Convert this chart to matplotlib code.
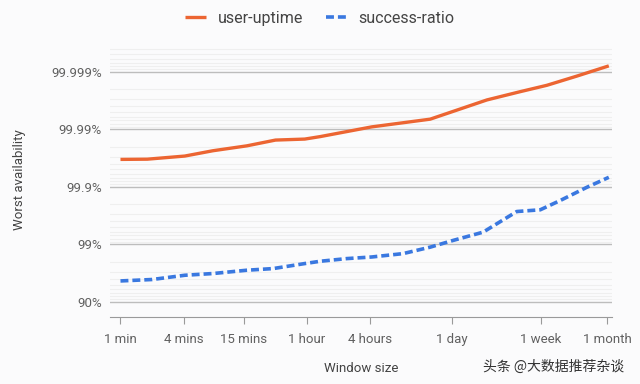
import numpy as np
import matplotlib
matplotlib.use("Agg")
import matplotlib.pyplot as plt
from matplotlib.ticker import FixedLocator, NullFormatter

# -------------------------
# DATA (window size in minutes, worst availability in %)
# -------------------------
uptime_minutes = [1, 1.8, 4.1, 7.6, 16, 30, 57, 80, 248, 893, 3100, 6430, 11550, 22300, 45000]
uptime_avail = [99.9666, 99.9669, 99.9708, 99.9764, 99.9806, 99.9846, 99.9852, 99.9866,
                99.99092, 99.99333, 99.99691, 99.99778, 99.99828, 99.99881, 99.99921]

ratio_minutes = [1, 2, 4.1, 7.6, 16, 28.5, 57, 80, 143.5, 248, 493, 893, 1479, 2857,
                 3855, 5980, 10000, 15500, 27800, 45000]
ratio_avail = [95.67, 95.91, 96.55, 96.78, 97.18, 97.36, 97.84, 98.03, 98.23, 98.34,
               98.55, 98.88, 99.145, 99.386, 99.561, 99.731, 99.749, 99.827, 99.898, 99.9316]

x_tick_minutes = [1, 4, 15, 60, 240, 1440, 10080, 43200]
x_tick_labels = ["1 min", "4 mins", "15 mins", "1 hour", "4 hours", "1 day", "1 week", "1 month"]

y_tick_avail = [90, 99, 99.9, 99.99, 99.999]
y_tick_labels = ["90%", "99%", "99.9%", "99.99%", "99.999%"]

ORANGE = "#ec6532"
BLUE = "#3a78e0"
TEXT = "#606060"


# "nines" scale: 90% -> 1, 99% -> 2, ...
def to_nines(a):
    a = np.asarray(a, dtype=float)
    return -np.log10(np.clip(1 - a / 100.0, 1e-12, None))


def from_nines(n):
    n = np.asarray(n, dtype=float)
    return 100.0 * (1 - 10.0 ** (-n))


plt.rcParams["font.family"] = ["Roboto", "DejaVu Sans"]

fig = plt.figure(figsize=(6.4, 3.84), dpi=100, facecolor="#fbfbfc")
ax = fig.add_axes([0.172, 0.175, 0.784, 0.713])
ax.set_facecolor("#fbfbfc")

ax.set_xscale("log")
ax.set_yscale("function", functions=(to_nines, from_nines))

ax.plot(uptime_minutes, uptime_avail, color=ORANGE, linewidth=2.4,
        solid_capstyle="butt", label="user-uptime", zorder=3)
ax.plot(ratio_minutes, ratio_avail, color=BLUE, linewidth=2.6,
        dashes=(2.2, 1.1), label="success-ratio", zorder=3)

ax.set_xlim(0.796, 48100)
ax.set_ylim(from_nines(0.74), from_nines(5.5))

# x axis
ax.set_xticks(x_tick_minutes)
ax.set_xticklabels(x_tick_labels)
ax.xaxis.set_minor_locator(FixedLocator([]))
ax.tick_params(axis="x", which="major", direction="out", length=5, width=0.8,
               color="#9a9a9a", labelcolor=TEXT, labelsize=9.5, pad=7)

# y axis: major + log-style minor gridlines
ax.set_yticks(y_tick_avail)
ax.set_yticklabels(y_tick_labels)
minor = []
for d in range(1, 7):
    for k in range(2, 10):
        minor.append(100.0 * (1 - k * 10.0 ** (-d)))
ax.yaxis.set_minor_locator(FixedLocator(minor))
ax.yaxis.set_minor_formatter(NullFormatter())
ax.tick_params(axis="y", which="both", length=0, labelcolor=TEXT, labelsize=9.5, pad=6)

ax.grid(axis="y", which="major", color="#bdbdbd", linewidth=1.0)
ax.grid(axis="y", which="minor", color="#efefef", linewidth=0.8)
ax.set_axisbelow(True)

for side in ["top", "right", "left"]:
    ax.spines[side].set_visible(False)
ax.spines["bottom"].set_color("#9a9a9a")
ax.spines["bottom"].set_linewidth(0.8)

ax.set_xlabel("Window size", color="#444444", fontsize=9.5, labelpad=11)
ax.set_ylabel("Worst availability", color="#444444", fontsize=9.5, labelpad=18)

handles, labels = ax.get_legend_handles_labels()
leg = fig.legend(handles, labels, loc="center", bbox_to_anchor=(0.5, 0.953), ncol=2,
                 frameon=False, fontsize=11.5, handlelength=1.3, columnspacing=1.4,
                 handletextpad=0.75)
for t in leg.get_texts():
    t.set_color("#444444")

fig.text(0.975, 0.045, "头条 @大数据推荐杂谈", ha="right", va="center",
         fontsize=10, color="#333333",
         family=["Noto Sans CJK SC", "DejaVu Sans"])

fig.savefig("out.png", dpi=100, facecolor=fig.get_facecolor())
